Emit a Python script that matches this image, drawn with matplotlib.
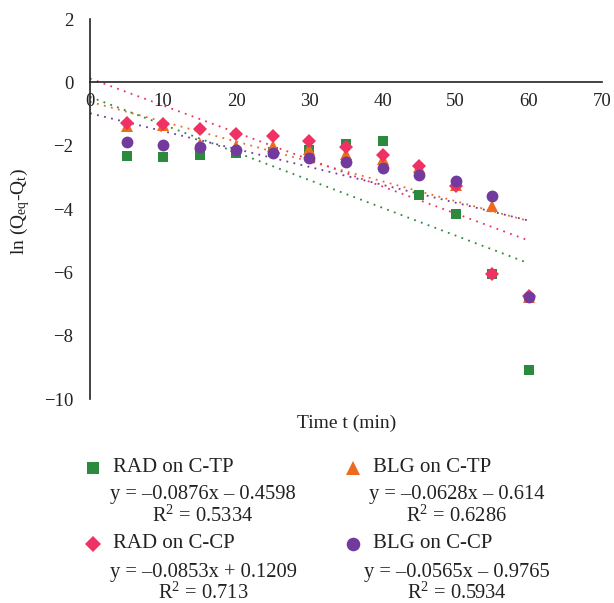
import matplotlib
matplotlib.use("Agg")
import matplotlib.pyplot as plt
from matplotlib.lines import Line2D

plt.rcParams["font.family"] = ["Liberation Serif", "DejaVu Serif"]
plt.rcParams["mathtext.fontset"] = "custom"
plt.rcParams["mathtext.rm"] = "Liberation Serif"
plt.rcParams["mathtext.it"] = "Liberation Serif:italic"

# time points (min)
t = [5, 10, 15, 20, 25, 30, 35, 40, 45, 50, 55, 60]

# ln(Qeq - Qt) values
rad_ctp = [-2.33, -2.35, -2.28, -2.24, -2.2, -2.15, -1.94, -1.84, -3.57, -4.17, -6.05, -9.08]
blg_ctp = [-1.38, -1.36, -1.95, -2.0, -2.0, -2.1, -2.25, -2.41, -2.68, -3.25, -3.9, -6.77]
rad_ccp = [-1.29, -1.32, -1.48, -1.62, -1.7, -1.84, -2.05, -2.31, -2.63, -3.26, -6.05, -6.75]
blg_ccp = [-1.88, -1.97, -2.05, -2.15, -2.22, -2.38, -2.52, -2.7, -2.92, -3.13, -3.6, -6.77]

# linear fits (slope, intercept)
fit_rad_ctp = (-0.0876, -0.4598)
fit_blg_ctp = (-0.0628, -0.614)
fit_rad_ccp = (-0.0853, 0.1209)
fit_blg_ccp = (-0.0565, -0.9765)

green = "#2b8a3e"
orange = "#ec6b1f"
pink = "#ef3163"
purple = "#713a9c"

series = [
    ("RAD on C-TP", rad_ctp, fit_rad_ctp, "s", green, "y = \u20130.0876x \u2013 0.4598", "0.5334"),
    ("BLG on C-TP", blg_ctp, fit_blg_ctp, "^", orange, "y = \u20130.0628x \u2013 0.614", "0.6286"),
    ("RAD on C-CP", rad_ccp, fit_rad_ccp, "D", pink, "y = \u20130.0853x + 0.1209", "0.713"),
    ("BLG on C-CP", blg_ccp, fit_blg_ccp, "o", purple, "y = \u20130.0565x \u2013 0.9765", "0.5934"),
]

fig = plt.figure(figsize=(6.14, 6.03), dpi=100)
ax = fig.add_axes([90 / 614, 1 - 399 / 603, 512 / 614, 380 / 603])

# trend lines
for name, vals, (m, b), mk, col, eq, r2 in series:
    xs = [0, 60]
    ax.plot(xs, [m * x + b for x in xs], linestyle=(0, (1, 3)), color=col, lw=1.3, zorder=1)

# points
sizes = {"s": 7.5, "^": 8.5, "D": 6.8, "o": 8.5}
for name, vals, fit, mk, col, eq, r2 in series:
    ax.plot(t, vals, linestyle="none", marker=mk, color=col, markersize=sizes[mk],
            markeredgewidth=0, zorder=3)

ax.set_xlim(0, 70)
ax.set_ylim(-10, 2)
ax.set_xticks(range(0, 71, 10))
ax.set_yticks(range(-10, 3, 2))
ax.spines["left"].set_position(("data", 0))
ax.spines["bottom"].set_position(("data", 0))
ax.spines["top"].set_visible(False)
ax.spines["right"].set_visible(False)
for s in ["left", "bottom"]:
    ax.spines[s].set_color("#222222")
    ax.spines[s].set_linewidth(1.2)
ax.tick_params(length=0, labelsize=13.5, colors="#222222")
ax.tick_params(axis="x", pad=8)
ax.tick_params(axis="y", pad=12)

fig.text(20 / 614, 1 - 212 / 603, r"ln (Q$_\mathregular{eq}$-Q$_\mathregular{t}$)",
         rotation=90, ha="center", va="center", fontsize=14, color="#222222")
fig.text(347 / 614, 1 - 423 / 603, "Time t (min)", ha="center", va="center",
         fontsize=14, color="#222222")

# legend block
cols = [(93, 113, 203), (353, 373, 457)]
rows = [(468, 495, 516), (544, 573, 593)]
for i, (name, vals, fit, mk, col, eq, r2) in enumerate(series):
    cx, lx, ex = cols[i % 2]
    ly, ey, ry = rows[i // 2]
    fig.add_artist(Line2D([cx / 614], [1 - ly / 603], transform=fig.transFigure,
                          marker=mk, color=col, markersize=sizes[mk] * 1.15,
                          markeredgewidth=0, linestyle="none"))
    fig.text(lx / 614, 1 - ly / 603, name, ha="left", va="center",
             fontsize=15, color="#222222")
    fig.text(ex / 614, 1 - ey / 603, eq, ha="center", va="center",
             fontsize=14.8, color="#222222")
    fig.text(ex / 614, 1 - ry / 603, r"R$^\mathregular{2}$ = " + r2, ha="center",
             va="center", fontsize=14.8, color="#222222")

fig.savefig("out.png", dpi=100)
